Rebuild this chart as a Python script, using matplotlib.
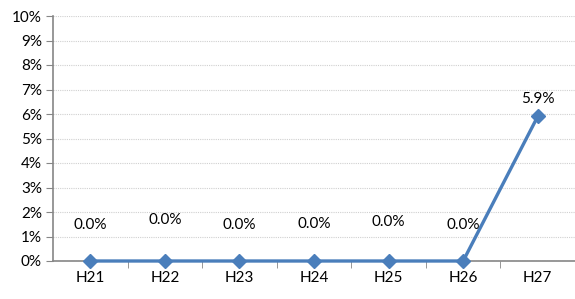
import matplotlib
matplotlib.use("Agg")
import matplotlib.pyplot as plt
from matplotlib.ticker import FixedLocator

# data
categories = ["H21", "H22", "H23", "H24", "H25", "H26", "H27"]
values = [0.0, 0.0, 0.0, 0.0, 0.0, 0.0, 5.9]
label_offsets = [36, 41, 36, 37, 39, 36, 17]  # px above the point
y_ticks = list(range(0, 11))

plt.rcParams['font.family'] = ['Lato', 'DejaVu Sans']

fig = plt.figure(figsize=(5.75, 2.99), dpi=100)
ax = fig.add_axes([53 / 575, 1 - 261 / 299, 1 - 53 / 575, (261 - 16) / 299])

x = list(range(len(categories)))
ax.plot(x, values, color='#4A7EBB', linewidth=2.4, marker='D', markersize=7.5,
        markerfacecolor='#4A7EBB', markeredgecolor='#4A7EBB', clip_on=False, zorder=3)

for xi, v, off in zip(x, values, label_offsets):
    ax.annotate(f"{v:.1f}%", (xi, v), xytext=(0, off * 0.72), textcoords='offset points',
                ha='center', va='center', fontsize=11, color='#000000')

ax.set_xlim(-0.5, len(categories) - 0.5)
ax.set_ylim(0, 10)
ax.set_yticks(y_ticks)
ax.set_yticklabels([f"{t}%" for t in y_ticks])
ax.set_xticks(x)
ax.set_xticklabels(categories)
ax.xaxis.set_minor_locator(FixedLocator([i + 0.5 for i in range(len(categories) - 1)]))

ax.tick_params(axis='x', which='major', length=0, pad=7, labelsize=11)
ax.tick_params(axis='x', which='minor', length=5, color='#868686', direction='out')
ax.tick_params(axis='y', length=5, color='#868686', direction='out', pad=3, labelsize=11)

ax.grid(axis='y', color='#D0D0D0', linestyle=(0, (1, 1)), linewidth=0.8)
ax.set_axisbelow(True)
for s in ['top', 'right']:
    ax.spines[s].set_visible(False)
ax.spines['left'].set_color('#868686')
ax.spines['bottom'].set_color('#868686')
ax.spines['left'].set_linewidth(1.2)
ax.spines['bottom'].set_linewidth(1.2)

fig.savefig("out.png", dpi=100)
